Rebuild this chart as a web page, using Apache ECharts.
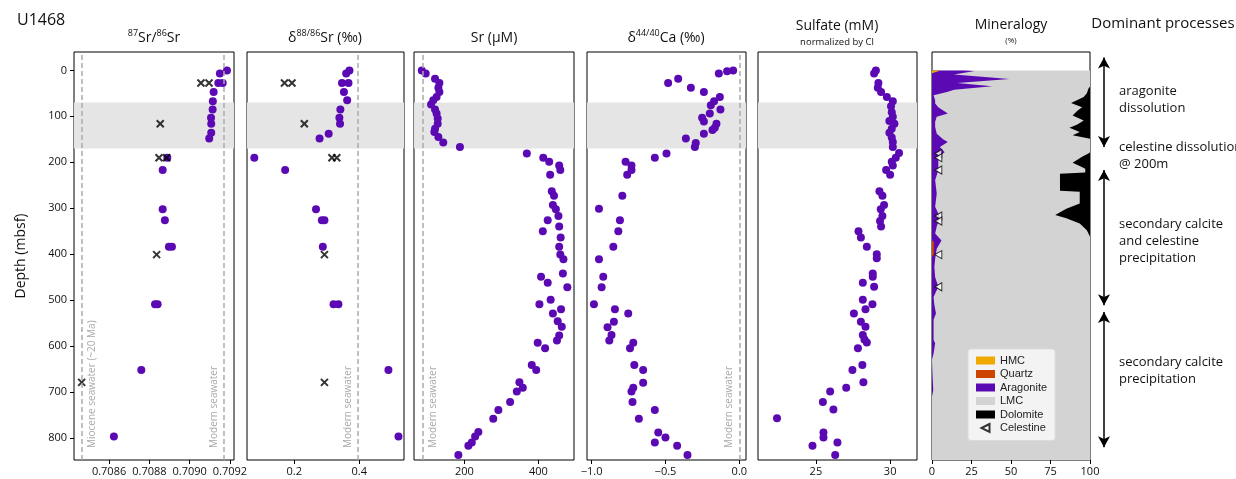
<!DOCTYPE html>
<html>
<head>
<meta charset="utf-8">
<script src="https://cdn.jsdelivr.net/npm/echarts@6/dist/echarts.min.js"></script>
<style>
  html, body { margin: 0; padding: 0; background: #fff; }
  #chart { width: 1236px; height: 479px; }
</style>
</head>
<body>
<div id="chart"></div>
<script>
// ---- 87Sr/86Sr ----
var srIsoDepth = [0, 7, 27.5, 27.5, 47, 67, 85, 103, 116, 136, 148, 190, 217, 302, 326, 384, 384, 509, 509, 652, 797];
var srIsoVal = [0.709185, 0.70915, 0.709142, 0.709164, 0.709119, 0.709115, 0.709114, 0.709106, 0.709107, 0.709107, 0.709097,
  0.708889, 0.708866, 0.708866, 0.708877, 0.708897, 0.708912, 0.708828, 0.708841, 0.70876, 0.708624];
var srIsoCarbDepth = [27.5, 27.5, 116, 190, 190, 401, 679];
var srIsoCarbVal = [0.709056, 0.709096, 0.708854, 0.708848, 0.708886, 0.708836, 0.708464];

// ---- d88/86Sr ----
var sr88Depth = [0, 7, 27.5, 27.5, 47, 65, 85, 103, 116, 138, 148, 190, 217, 302, 326, 326, 384, 509, 509, 652, 797];
var sr88Val = [0.370, 0.360, 0.347, 0.367, 0.353, 0.363, 0.342, 0.339, 0.341, 0.306, 0.278, 0.077, 0.172, 0.267, 0.285, 0.293,
  0.288, 0.321, 0.336, 0.490, 0.521];
var sr88CarbDepth = [27.5, 27.5, 116, 190, 190, 401, 679];
var sr88CarbVal = [0.170, 0.193, 0.231, 0.316, 0.331, 0.293, 0.293];

// ---- Sr (uM) ----
var srDepth = [0, 7, 18, 27.5, 38, 47, 58, 65, 74, 85, 94, 105, 116, 127, 134, 145, 157, 167, 181, 190, 199, 207, 217, 227, 263,
  273, 293, 302, 317, 326, 340, 350, 364, 384, 401, 411, 442, 449, 462, 472, 499, 509, 520, 529, 546, 558, 577, 588, 593, 605,
  641, 652, 679, 691, 699, 722, 739, 758, 787, 797, 810, 817, 837];
var srVal = [85, 95.6, 120.8, 132.5, 129.8, 132.5, 125, 116, 110, 120.8, 125, 128, 128, 120.8, 119, 129.8, 143, 188, 368.6, 413,
  429, 456, 459, 431.6, 436, 442, 439, 447, 454, 425, 456, 411.8, 460, 456, 459, 467.5, 466, 407, 425, 478, 433, 402.6, 461, 439,
  452, 463, 456, 450, 398, 418, 382, 394, 348.6, 357.8, 341.6, 323.5, 291.8, 278, 237.8, 229, 220, 210.8, 183.8];

// ---- d44/40Ca ----
var caDepth = [0, 2, 7, 18, 27.5, 38, 47, 58, 67, 76, 85, 94, 103, 111, 116, 125, 130, 138, 148, 158, 167, 181, 190, 199, 207,
  217, 227, 273, 301, 326, 350, 384, 411, 449, 472, 509, 520, 529, 547, 559, 576, 588, 593, 605, 641, 652, 680, 691, 699, 722,
  739, 758, 788, 799, 810, 817, 837];
var caVal = [-0.042, -0.083, -0.139, -0.414, -0.482, -0.328, -0.240, -0.132, -0.171, -0.193, -0.128, -0.200, -0.252, -0.240,
  -0.155, -0.166, -0.182, -0.240, -0.362, -0.295, -0.301, -0.493, -0.572, -0.770, -0.730, -0.730, -0.759, -0.792, -0.950,
  -0.808, -0.819, -0.853, -0.950, -0.921, -0.932, -0.984, -0.842, -0.752, -0.849, -0.892, -0.865, -0.880, -0.718, -0.740,
  -0.711, -0.651, -0.651, -0.718, -0.730, -0.723, -0.572, -0.680, -0.549, -0.500, -0.572, -0.421, -0.351];

// ---- Sulfate (mM, normalized by Cl) ----
var so4Depth = [0, 7, 27.5, 38, 47, 58, 67, 78, 91, 101, 110, 116, 127, 136, 146, 156, 167, 180, 190, 199, 207, 217, 227, 263,
  273, 293, 302, 317, 328, 340, 350, 364, 384, 400, 409, 442, 449, 462, 471, 499, 509, 520, 529, 547, 558, 576, 586, 592, 605,
  641, 652, 679, 691, 699, 722, 738, 757, 788, 799, 810, 817, 837];
var so4Val = [29.04, 28.92, 29.21, 29.17, 29.39, 29.78, 30.18, 30.06, 30.11, 30.18, 29.95, 30.29, 30.11, 29.95, 30.11, 30.18,
  30.18, 30.6, 30.38, 30.11, 30.18, 29.73, 30.0, 29.28, 29.48, 29.59, 29.37, 29.48, 29.32, 29.39, 27.87, 28.03, 28.43, 29.1,
  29.1, 28.83, 28.83, 28.16, 28.92, 28.16, 28.81, 28.34, 27.56, 28.03, 28.34, 28.16, 28.27, 28.43, 27.83, 28.13, 27.46, 28.2,
  27.04, 25.96, 25.47, 26.18, 22.38, 25.51, 25.51, 26.45, 24.77, 26.3];

// ---- Mineralogy (%) ----
var hmcDepth = [0, 3, 6];
var hmcVal = [5.5, 3, 0];
var quartzDepth = [370, 373, 400, 406];
var quartzVal = [0, 1.2, 1.2, 0];
var aragDepth = [0, 1.4, 8.7, 18.8, 27.5, 34.8, 42, 47, 54, 65, 72, 80, 94, 101, 112, 123, 138, 150, 156, 167, 178, 188, 200,
  217, 239, 268, 297, 319, 340, 355, 370, 388, 410, 428, 450, 471, 493, 510, 529, 543, 565, 587, 594, 616, 630, 660, 696, 710, 848];
var aragVal = [20, 27, 14, 49, 16, 38, 14, 9.5, 1, 2, 2, 4, 10, 3, 2, 2, 3, 7, 10, 5, 8, 4, 4,
  4, 2, 3, 2, 5, 3, 2, 6, 3, 2, 1.5, 2, 4, 1, 1.5, 2.5, 1, 1, 1, 2, 1, 0, 0.3, 0.8, 0, 0];
var lmcDepth = [0, 848];
var dolDepth = [0, 35, 40, 50, 58, 71, 80, 88, 98, 109, 118, 125, 134, 141, 149, 178, 181, 188, 201, 210, 214, 222, 225, 262,
  264, 290, 301, 315, 322, 333, 348, 362, 848];
var dolVal = [0, 0, 1, 2, 4, 12, 5, 8, 11, 4, 8, 13, 6.5, 11, 0, 0, 1, 5, 11, 5.5, 3, 3, 19, 19,
  6.5, 6.5, 15, 22, 15, 6.5, 2, 0, 0];
var celestineDepth = [181, 190, 217, 317, 328, 401, 471];
var celestineVal = [4, 4, 4, 4, 4, 4, 4];

// ---- reference lines ----
var modernSeawater = [0.70917, 0.396, 88, 0.0];
var mioceneSeawater = 0.708464;
var bandTop = 70, bandBottom = 170;

// ---- dominant processes ----
var procRanges = [[-28, 167], [217, 511], [526, 820]];

var purple = '#5b0ab3';
var tickFont = 'Open Sans';
var depthMin = -40, depthMax = 848;
var depthTicks = [0, 100, 200, 300, 400, 500, 600, 700, 800];

var panels = [
  { left: 74, width: 160, min: 0.708426, max: 0.70922, ticks: [0.7086, 0.7088, 0.7090, 0.7092], fmt: function (v) { return v.toFixed(4); } },
  { left: 247, width: 157, min: 0.0545, max: 0.538, ticks: [0.2, 0.4], fmt: function (v) { return v.toFixed(1); } },
  { left: 414, width: 160, min: 64, max: 496, ticks: [200, 400], fmt: function (v) { return String(v); } },
  { left: 587, width: 159, min: -1.031, max: 0.045, ticks: [-1, -0.5, 0], fmt: function (v) { return v.toFixed(1).replace('-', '\u2212'); } },
  { left: 758, width: 159, min: 21.1, max: 31.81, ticks: [25, 30], fmt: function (v) { return String(v); } },
  { left: 932, width: 158, min: 0, max: 100, ticks: [0, 25, 50, 75, 100], fmt: function (v) { return String(v); } },
  { left: 1094, width: 20, min: -1, max: 1, ticks: [], fmt: null, hidden: true }
];

var grids = [], xAxes = [], yAxes = [];
panels.forEach(function (p, i) {
  grids.push({ left: p.left, width: p.width, top: 52, bottom: 19, show: !p.hidden, borderColor: '#000', borderWidth: 1, backgroundColor: 'transparent' });
  xAxes.push({
    type: 'value', gridIndex: i, min: p.min, max: p.max, show: !p.hidden, position: 'bottom',
    splitLine: { show: false }, axisLine: { show: false, onZero: false },
    axisTick: { show: true, length: 4, lineStyle: { color: '#000' }, customValues: p.ticks },
    axisLabel: { show: true, customValues: p.ticks, formatter: p.fmt, fontFamily: tickFont, fontSize: 11, color: '#111', margin: 6 }
  });
  yAxes.push({
    type: 'value', gridIndex: i, min: depthMin, max: depthMax, inverse: true, show: i === 0, position: 'left',
    splitLine: { show: false }, axisLine: { show: false, onZero: false },
    axisTick: { show: true, length: 4, lineStyle: { color: '#000' }, customValues: depthTicks },
    axisLabel: { show: true, customValues: depthTicks, fontFamily: tickFont, fontSize: 11, color: '#111', margin: 7 },
    name: i === 0 ? 'Depth (mbsf)' : '', nameLocation: 'middle', nameRotate: 90, nameGap: 46,
    nameTextStyle: { fontFamily: 'Open Sans', fontSize: 14, color: '#111' }
  });
});

function pairs(xs, ys) { return ys.map(function (d, i) { return [xs[i], d]; }); }

var series = [];

// background band + seawater lines (drawn from the bottom up so the text reads upward)
function helper(i, lines) {
  var s = {
    type: 'line', xAxisIndex: i, yAxisIndex: i, data: [], z: 1, silent: true,
    markArea: { silent: true, itemStyle: { color: '#e5e5e5' }, data: [[{ yAxis: bandTop }, { yAxis: bandBottom }]] }
  };
  if (lines) {
    s.markLine = {
      silent: true, symbol: 'none', animation: false,
      lineStyle: { color: '#aaa', type: [5, 3], width: 1.5 },
      data: lines.map(function (l) {
        var lab = { show: true, formatter: l.text, position: l.pos, color: '#aaa', fontFamily: 'Open Sans', fontSize: 10, distance: [12, 5] };
        return [{ coord: [l.x, depthMax], label: lab }, { coord: [l.x, depthMin], label: lab }];
      })
    };
  }
  return s;
}
series.push(helper(0, [
  { x: mioceneSeawater, text: 'Miocene seawater (~20 Ma)', pos: 'insideStartBottom' },
  { x: modernSeawater[0], text: 'Modern seawater', pos: 'insideStartTop' }
]));
series.push(helper(1, [{ x: modernSeawater[1], text: 'Modern seawater', pos: 'insideStartTop' }]));
series.push(helper(2, [{ x: modernSeawater[2], text: 'Modern seawater', pos: 'insideStartBottom' }]));
series.push(helper(3, [{ x: modernSeawater[3], text: 'Modern seawater', pos: 'insideStartTop' }]));
series.push(helper(4, null));

function dots(i, xs, ys) {
  return { type: 'scatter', xAxisIndex: i, yAxisIndex: i, data: pairs(xs, ys), symbolSize: 8, itemStyle: { color: purple, opacity: 1 }, z: 3, silent: true };
}
function crosses(i, xs, ys) {
  return {
    type: 'scatter', xAxisIndex: i, yAxisIndex: i, data: pairs(xs, ys), symbol: 'path://M0,0L10,10M10,0L0,10', symbolSize: 7,
    itemStyle: { color: 'none', borderColor: '#000', borderWidth: 2 }, z: 4, silent: true
  };
}
series.push(dots(0, srIsoVal, srIsoDepth));
series.push(crosses(0, srIsoCarbVal, srIsoCarbDepth));
series.push(dots(1, sr88Val, sr88Depth));
series.push(crosses(1, sr88CarbVal, sr88CarbDepth));
series.push(dots(2, srVal, srDepth));
series.push(dots(3, caVal, caDepth));
series.push(dots(4, so4Val, so4Depth));

// mineralogy polygons
function layer(name, color, depths, lo, hi) {
  return {
    type: 'custom', name: name, xAxisIndex: 5, yAxisIndex: 5, silent: true,
    itemStyle: { color: color },
    data: depths.map(function (d, k) { return [hi[k], d]; }),
    renderItem: function (params, api) {
      if (params.dataIndex !== 0) return null;
      var pts = [];
      for (var k = 0; k < depths.length; k++) pts.push(api.coord([lo[k], depths[k]]));
      for (var m = depths.length - 1; m >= 0; m--) pts.push(api.coord([hi[m], depths[m]]));
      return { type: 'polygon', shape: { points: pts }, style: { fill: color } };
    }
  };
}
function zeros(a) { return a.map(function () { return 0; }); }
function hundreds(a) { return a.map(function () { return 100; }); }
series.push(layer('LMC', '#d3d3d3', lmcDepth, zeros(lmcDepth), hundreds(lmcDepth)));
series.push(layer('Aragonite', purple, aragDepth, zeros(aragDepth), aragVal));
series.push(layer('HMC', '#f0a800', hmcDepth, zeros(hmcDepth), hmcVal));
series.push(layer('Quartz', '#cc4400', quartzDepth, zeros(quartzDepth), quartzVal));
series.push(layer('Dolomite', '#000', dolDepth, dolVal.map(function (v) { return 100 - v; }), hundreds(dolDepth)));

var triPath = 'path://M10,0L0,5L10,10Z';
series.push({
  type: 'scatter', name: 'Celestine', xAxisIndex: 5, yAxisIndex: 5, data: pairs(celestineVal, celestineDepth),
  symbol: triPath, symbolSize: [7, 8], itemStyle: { color: '#fff', borderColor: '#000', borderWidth: 1 }, z: 5, silent: true
});

// dominant process arrows
series.push({
  type: 'scatter', xAxisIndex: 6, yAxisIndex: 6, data: [], silent: true,
  markLine: {
    silent: true, animation: false, symbol: ['arrow', 'arrow'], symbolSize: [9, 11],
    lineStyle: { color: '#000', type: 'solid', width: 1.5 }, label: { show: false },
    data: procRanges.map(function (r) { return [{ coord: [0, r[0]] }, { coord: [0, r[1]] }]; })
  }
});

var txt = '#111';
function t(x, y, text, size, extra) {
  var st = { text: text, fontFamily: 'Open Sans', fontSize: size, fill: txt, align: 'center', verticalAlign: 'middle' };
  if (extra) for (var k in extra) st[k] = extra[k];
  return { type: 'text', x: x, y: y, style: st, silent: true };
}
var supRich = { s: { fontSize: 9, fontFamily: 'Open Sans', fill: txt, verticalAlign: 'top', lineHeight: 18 }, n: { fontSize: 14, fontFamily: 'Open Sans', fill: txt, lineHeight: 18 } };

var graphics = [
  t(17, 20, 'U1468', 16, { align: 'left' }),
  t(154, 38, '{s|87}{n|Sr/}{s|86}{n|Sr}', 14, { rich: supRich }),
  t(325, 38, '{n|\u03b4}{s|88/86}{n|Sr (\u2030)}', 14, { rich: supRich }),
  t(494, 38, 'Sr (\u00b5M)', 14),
  t(666, 38, '{n|\u03b4}{s|44/40}{n|Ca (\u2030)}', 14, { rich: supRich }),
  t(837, 26, 'Sulfate (mM)', 14),
  t(837, 42, 'normalized by Cl', 9.5),
  t(1011, 25, 'Mineralogy', 14),
  t(1011, 41, '(%)', 8),
  t(1163, 24, 'Dominant processes', 15),
  t(1119, 100, 'aragonite\ndissolution', 13, { align: 'left', lineHeight: 17 }),
  t(1119, 156, 'celestine dissolution\n@ 200m', 13, { align: 'left', lineHeight: 17 }),
  t(1119, 241, 'secondary calcite\nand celestine\nprecipitation', 13, { align: 'left', lineHeight: 17 }),
  t(1119, 371, 'secondary calcite\nprecipitation', 13, { align: 'left', lineHeight: 17 })
];

var chart = echarts.init(document.getElementById('chart'), null, { renderer: 'canvas' });
chart.setOption({
  animation: false,
  backgroundColor: '#fff',
  grid: grids,
  xAxis: xAxes,
  yAxis: yAxes,
  legend: {
    show: true, orient: 'vertical', left: 968, top: 349, selectedMode: false,
    itemWidth: 19, itemHeight: 8, itemGap: 2.5, padding: [6, 8, 7, 8],
    backgroundColor: '#f3f3f3', borderColor: '#dcdcdc', borderWidth: 1, borderRadius: 3,
    textStyle: { fontFamily: 'Liberation Sans', fontSize: 11, color: '#222' },
    data: [
      { name: 'HMC', icon: 'rect' },
      { name: 'Quartz', icon: 'rect' },
      { name: 'Aragonite', icon: 'rect' },
      { name: 'LMC', icon: 'rect' },
      { name: 'Dolomite', icon: 'rect' },
      { name: 'Celestine', icon: triPath }
    ]
  },
  graphic: graphics,
  series: series
});
</script>
</body>
</html>
